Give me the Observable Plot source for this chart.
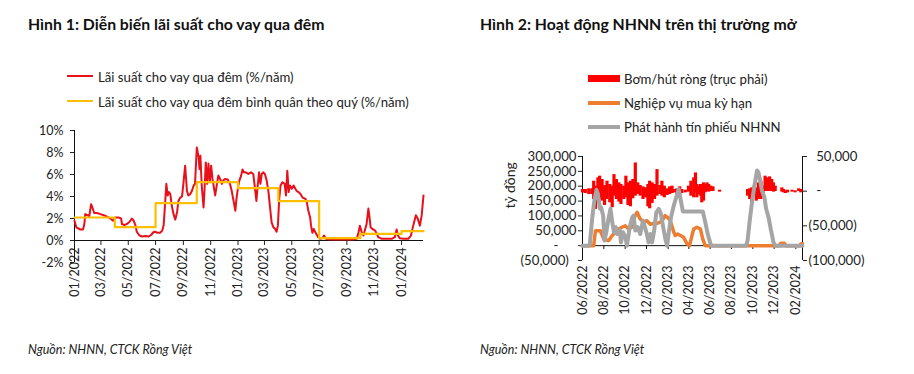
<!DOCTYPE html>
<html><head><meta charset="utf-8">
<script src="https://cdn.jsdelivr.net/npm/d3@7"></script>
<script src="https://cdn.jsdelivr.net/npm/@observablehq/plot@0.6"></script>
<style>
body{margin:0;background:#fff;}
#root{position:relative;width:914px;height:374px;overflow:hidden;font-family:Lato,"Open Sans",sans-serif;color:#1a1a1a;background:#fff;}
.abs{position:absolute;white-space:nowrap;line-height:0;}
.title{font-weight:700;font-size:15.8px;color:#111;}
.leg{font-size:13.2px;color:#222;}
.cap{font-style:italic;font-size:12.5px;color:#222;}
.sw{position:absolute;}
.panel{position:absolute;top:0;}
</style></head><body><div id="root"></div>
<script>
// ---------- Figure 1: overnight interbank rate (%/year) ----------
const onDates = ["2022-01-01","2022-01-05","2022-01-14","2022-01-20","2022-01-23","2022-01-25","2022-01-30","2022-02-03","2022-02-07","2022-02-10","2022-02-14","2022-02-20","2022-02-28","2022-03-07","2022-03-13","2022-03-18","2022-03-22","2022-03-28","2022-04-02","2022-04-09","2022-04-15","2022-04-17","2022-04-22","2022-04-28","2022-05-04","2022-05-09","2022-05-13","2022-05-17","2022-05-20","2022-05-26","2022-06-01","2022-06-08","2022-06-15","2022-06-21","2022-06-26","2022-06-30","2022-07-05","2022-07-11","2022-07-16","2022-07-19","2022-07-21","2022-07-25","2022-07-28","2022-07-31","2022-08-03","2022-08-06","2022-08-10","2022-08-14","2022-08-18","2022-08-21","2022-08-25","2022-08-29","2022-09-01","2022-09-05","2022-09-09","2022-09-12","2022-09-16","2022-09-20","2022-09-24","2022-09-27","2022-10-01","2022-10-05","2022-10-07","2022-10-09","2022-10-12","2022-10-16","2022-10-18","2022-10-21","2022-10-24","2022-10-27","2022-10-30","2022-11-02","2022-11-05","2022-11-08","2022-11-11","2022-11-15","2022-11-18","2022-11-22","2022-11-26","2022-11-29","2022-12-03","2022-12-09","2022-12-14","2022-12-18","2022-12-22","2022-12-26","2022-12-28","2023-01-01","2023-01-04","2023-01-08","2023-01-11","2023-01-14","2023-01-18","2023-01-24","2023-01-30","2023-02-04","2023-02-08","2023-02-11","2023-02-14","2023-02-17","2023-02-20","2023-02-23","2023-02-26","2023-03-02","2023-03-06","2023-03-10","2023-03-13","2023-03-17","2023-03-21","2023-03-25","2023-03-28","2023-03-31","2023-04-03","2023-04-06","2023-04-10","2023-04-15","2023-04-18","2023-04-21","2023-04-24","2023-04-27","2023-05-01","2023-05-05","2023-05-09","2023-05-12","2023-05-16","2023-05-20","2023-05-25","2023-05-31","2023-06-03","2023-06-07","2023-06-11","2023-06-13","2023-06-16","2023-06-19","2023-06-22","2023-06-26","2023-06-29","2023-07-03","2023-07-08","2023-07-12","2023-07-16","2023-07-21","2023-07-29","2023-08-13","2023-08-28","2023-09-12","2023-09-23","2023-09-27","2023-09-30","2023-10-04","2023-10-08","2023-10-11","2023-10-15","2023-10-19","2023-10-21","2023-10-24","2023-10-28","2023-11-03","2023-11-07","2023-11-10","2023-11-18","2023-11-29","2023-12-10","2023-12-17","2023-12-21","2023-12-24","2023-12-28","2024-01-05","2024-01-16","2024-01-22","2024-01-27","2024-02-02","2024-02-06","2024-02-11","2024-02-15","2024-02-19"];
const onRates = [1.8,1.2,1.0,1.0,1.5,2.4,2.3,2.2,3.3,3.0,2.5,2.5,2.4,2.3,2.2,2.1,2.0,1.8,2.1,2.1,2.0,1.5,1.4,1.5,1.7,2.0,1.8,1.4,0.8,0.45,0.36,0.4,0.36,0.5,0.75,0.8,0.7,0.7,0.9,1.4,2.6,5.15,4.1,4.4,4.2,3.2,2.4,1.9,2.6,3.6,3.9,4.0,5.15,6.8,4.5,4.1,4.2,4.5,5.0,5.15,8.45,7.6,6.5,7.7,5.0,3.0,4.4,7.1,5.15,7.0,5.3,6.8,5.6,4.85,4.1,5.15,5.9,5.6,5.15,5.45,5.6,5.55,5.15,4.5,3.6,2.7,3.6,4.85,5.45,5.9,6.45,6.2,6.2,6.05,6.2,6.05,4.7,3.6,5.0,6.2,5.15,6.05,6.2,6.05,5.45,4.4,3.2,1.65,1.2,1.05,0.8,1.35,3.8,5.0,5.3,5.15,4.1,6.35,4.4,5.0,4.7,5.0,4.7,4.5,4.4,4.25,3.9,3.8,3.6,2.7,2.1,1.35,0.7,1.05,0.8,0.5,0.3,0.15,0.2,0.45,0.15,0.12,0.1,0.1,0.1,0.1,0.15,0.75,1.35,0.75,0.45,0.9,1.5,2.9,2.3,1.2,1.05,0.9,0.6,0.3,0.15,0.15,0.15,0.3,1.0,0.45,0.2,0.15,0.15,0.45,1.35,2.3,2.0,1.35,2.3,4.1];
const qDates = ["2022-01-01","2022-04-01","2022-07-01","2022-10-01","2023-01-01","2023-04-01","2023-07-01","2023-10-01","2024-01-01","2024-02-19"];
const qRates = [2.09,1.21,3.39,5.3,4.76,3.58,0.21,0.6,0.85,0.85];
const leftYTicks = [-2,0,2,4,6,8,10];
const leftXTicks = ["2022-01-01","2022-03-01","2022-05-01","2022-07-01","2022-09-01","2022-11-01","2023-01-01","2023-03-01","2023-05-01","2023-07-01","2023-09-01","2023-11-01","2024-01-01"];

// ---------- Figure 2: SBV open market operations (bn VND, in thousands) ----------
const netDates = ["2022-06-01","2022-06-09","2022-06-19","2022-06-28","2022-07-03","2022-07-08","2022-07-15","2022-07-20","2022-07-27","2022-08-03","2022-08-10","2022-08-18","2022-08-25","2022-08-30","2022-09-06","2022-09-13","2022-09-19","2022-09-27","2022-10-03","2022-10-09","2022-10-16","2022-10-23","2022-10-30","2022-11-06","2022-11-13","2022-11-21","2022-11-28","2022-12-05","2022-12-10","2022-12-17","2022-12-24","2022-12-31","2023-01-08","2023-01-14","2023-01-21","2023-01-29","2023-02-05","2023-02-12","2023-02-19","2023-02-26","2023-03-06","2023-03-12","2023-03-22","2023-03-31","2023-04-07","2023-04-15","2023-04-20","2023-04-24","2023-04-29","2023-05-04","2023-05-08","2023-05-13","2023-05-18","2023-05-23","2023-05-28","2023-06-03","2023-06-09","2023-06-28","2023-09-16","2023-09-22","2023-09-28","2023-10-05","2023-10-11","2023-10-17","2023-10-24","2023-10-30","2023-11-05","2023-11-10","2023-11-18","2023-11-24","2023-11-29","2023-12-04","2023-12-23","2023-12-28","2024-01-02","2024-01-08","2024-01-21","2024-01-30","2024-02-09","2024-02-15"];
const netHigh = [2.4,2.4,3.4,3.4,14.4,7.2,19.2,21.6,16.8,8.1,14.4,9.6,7.2,23.9,16.8,12,9.6,7.2,21.6,12,14.4,16.8,40.7,12,8.1,6.2,4.8,9.6,14.4,12,9.6,31.1,8.1,14.4,7.2,3.4,6.2,7.2,2.4,3.4,6.2,2.4,1.4,7.2,14.4,19.2,26.3,9.6,7.2,9.6,4.8,12,9.6,12,9.6,7.2,6.2,1.4,2.4,3.4,4.8,7.2,4.8,12,14.4,7.2,21.6,19.2,20.6,16.8,12,7.2,4.8,2.4,0.5,1.4,1.4,0.5,3.4,2.4];
const netLow = [-2.4,-3.4,-4.8,-4.8,-12,-26.3,-16.8,-12,-14.4,-20.6,-12,-16.8,-23.9,-7.2,-12,-15.8,-19.2,-12,-9.6,-20.6,-22.5,-11,-7.2,-4.8,-7.2,-12,-9.6,-22.5,-25.4,-17.7,-12,-7.2,-4.8,-7.2,-9.6,-6.2,-4.8,-3.4,-2.4,-4.8,-6.2,-3.4,-2.4,-1.4,-7.2,-9.6,-2.4,-9.6,-4.8,-7.2,-16.8,-14.4,-2.4,-0.5,-1.4,-0.5,-0.5,-1.4,-7.2,-12,-19.2,-7.2,-14.4,-12,-12,-4.8,-0.5,-0.5,-0.5,-0.5,-1.4,-0.5,-1.4,-2.4,-3.4,-2.4,-1.4,-2.4,-0.5,-2.4];
const repoDates = ["2022-06-01","2022-07-03","2022-07-08","2022-07-22","2022-08-01","2022-08-15","2022-08-25","2022-09-03","2022-09-12","2022-09-22","2022-10-01","2022-10-11","2022-10-20","2022-10-25","2022-11-04","2022-11-13","2022-11-23","2022-12-02","2022-12-12","2022-12-21","2022-12-31","2023-01-09","2023-01-18","2023-01-23","2023-01-30","2023-02-07","2023-02-17","2023-02-21","2023-02-28","2023-03-08","2023-03-17","2023-03-27","2023-04-03","2023-04-10","2023-04-15","2023-04-24","2023-05-04","2023-05-11","2023-05-18","2023-12-15","2023-12-20","2023-12-30","2024-01-04","2024-02-12","2024-02-16","2024-02-20"];
const repoVals = [0,0,50,50,22,17,34,45,56,62,67,56,62,90,112,90,79,84,72,75,75,79,90,101,95,84,45,34,39,34,28,6,0,34,56,62,56,22,0,0,8,8,0,0,6,6];
const billDates = ["2022-06-01","2022-06-19","2022-06-22","2022-06-29","2022-07-05","2022-07-11","2022-07-15","2022-07-21","2022-07-24","2022-07-30","2022-08-03","2022-08-08","2022-08-15","2022-08-20","2022-08-25","2022-08-30","2022-09-04","2022-09-08","2022-09-16","2022-09-19","2022-09-25","2022-10-02","2022-10-06","2022-10-14","2022-10-21","2022-10-25","2022-10-30","2022-11-06","2022-11-13","2022-11-21","2022-11-28","2022-12-02","2022-12-07","2022-12-12","2022-12-17","2022-12-23","2022-12-29","2023-01-05","2023-01-11","2023-01-17","2023-01-24","2023-01-29","2023-02-02","2023-02-09","2023-02-17","2023-02-24","2023-03-03","2023-03-09","2023-03-15","2023-05-11","2023-05-18","2023-05-25","2023-06-02","2023-06-06","2023-09-12","2023-09-16","2023-09-22","2023-09-28","2023-10-05","2023-10-13","2023-10-17","2023-10-22","2023-10-27","2023-11-03","2023-11-08","2023-11-15","2023-11-22","2023-11-29","2023-12-04","2024-02-20"];
const billVals = [0,0,5,95,152,188,174,124,129,101,17,45,95,124,79,45,62,39,51,11,45,28,0,62,95,101,51,62,39,84,56,39,11,39,11,51,112,124,107,67,22,0,39,95,135,163,190,152,115,115,79,39,6,0,0,17,84,140,197,253,247,219,185,163,124,95,51,11,0,0];
const rightLeftTicks = [-50,0,50,100,150,200,250,300];
const rightRightTicks = [-100,-50,0,50];
const rightXTicks = ["2022-06-01","2022-08-01","2022-10-01","2022-12-01","2023-02-01","2023-04-01","2023-06-01","2023-08-01","2023-10-01","2023-12-01","2024-02-01"];

const P = s => new Date(s);
const rateData = onDates.map((d,i) => ({date:P(d), rate:onRates[i]}));
const qData = qDates.map((d,i) => ({date:P(d), rate:qRates[i]}));
const netData = netDates.map((d,i) => ({date:P(d), hi:netHigh[i], lo:netLow[i]}));
const repoData = repoDates.map((d,i) => ({date:P(d), v:repoVals[i]}));
const billData = billDates.map((d,i) => ({date:P(d), v:billVals[i]}));

const FONT = "Lato, 'Open Sans', sans-serif";
const baseStyle = {background:"transparent", overflow:"visible", fontFamily:FONT, fontSize:"12px", color:"#222"};
const mfmt = d3.utcFormat("%m/%Y");

const leftPlot = Plot.plot({
  width: 440, height: 320,
  marginLeft: 74, marginRight: 17, marginTop: 130, marginBottom: 80,
  style: baseStyle,
  x: {type:"utc", domain:[P(onDates[0]), P(onDates[onDates.length-1])]},
  y: {domain:[0,10]},
  marks: [
    Plot.ruleX([P(onDates[0])], {y1:-2, y2:10, stroke:"#111"}),
    Plot.ruleY([0], {stroke:"#111"}),
    Plot.axisY({ticks:leftYTicks, tickFormat:d => d + "%", tickSize:4, tickPadding:7, label:null, fontSize:12.5}),
    Plot.axisX({ticks:leftXTicks.map(P), tickFormat:mfmt, tickRotate:-90, tickSize:5, tickPadding:2, textAnchor:"end", label:null, fontSize:12.5}),
    Plot.line(rateData, {x:"date", y:"rate", stroke:"#e8101a", strokeWidth:2}),
    Plot.line(qData, {x:"date", y:"rate", curve:"step-after", stroke:"#ffbf00", strokeWidth:2.2})
  ]
});

// right axis (net injection) mapped onto left axis units
const toLeft = v => (v + 100) * 7 / 3 - 50;
const fromLeft = v => Math.round((v + 50) * 3 / 7 - 100);
const nf = d3.format(",");
const acctLeft = v => v === 0 ? "-\u2007\u2007\u2008" : v < 0 ? "(" + nf(-v * 1000) + ")\u2007" : nf(v * 1000);
const acctRight = v => v === 0 ? "\u2007-" : v < 0 ? "(" + nf(-v * 1000) + ")" : "\u2007" + nf(v * 1000);
const rStart = P(rightXTicks[0]), rEnd = P("2024-02-20");

const rightPlot = Plot.plot({
  width: 457, height: 330,
  marginLeft: 125, marginRight: 112, marginTop: 156, marginBottom: 70,
  style: baseStyle,
  x: {type:"utc", domain:[rStart, rEnd]},
  y: {domain:[-50, 300]},
  marks: [
    Plot.ruleX([rStart, rEnd], {stroke:"#111"}),
    Plot.ruleY([0], {stroke:"#111"}),
    Plot.ruleX(rightXTicks.map(P), {y1:0, y2:-50, insetBottom:11, stroke:"#111"}),
    Plot.axisY({anchor:"left", ticks:rightLeftTicks, tickFormat:acctLeft, tickSize:4, tickPadding:2, label:null, fontSize:13.2}),
    Plot.axisY({anchor:"right", ticks:rightRightTicks.map(toLeft), tickFormat:d => acctRight(fromLeft(d)), tickSize:4, tickPadding:2, label:null, fontSize:13.2}),
    Plot.axisX({ticks:rightXTicks.map(P), tickFormat:mfmt, tickRotate:-90, tickSize:0, tickPadding:5, textAnchor:"end", label:null, fontSize:12.5}),
    Plot.text(["tỷ đồng"], {frameAnchor:"left", dx:-72, rotate:-90, fontSize:14, fill:"#222"}),
    Plot.ruleX(netData, {x:"date", y1:d => toLeft(d.lo), y2:d => toLeft(d.hi), stroke:"#ff0000", strokeWidth:3.2}),
    Plot.line(repoData, {x:"date", y:"v", stroke:"#ed7d31", strokeWidth:3.5}),
    Plot.line(billData, {x:"date", y:"v", stroke:"#a5a5a5", strokeWidth:4})
  ]
});

const root = document.getElementById("root");
const lp = document.createElement("div"); lp.className = "panel"; lp.style.left = "0px"; lp.appendChild(leftPlot); root.appendChild(lp);
const rp = document.createElement("div"); rp.className = "panel"; rp.style.left = "457px"; rp.appendChild(rightPlot); root.appendChild(rp);

function text(str, x, y, cls) {
  const d = document.createElement("div");
  d.className = "abs " + cls; d.textContent = str;
  d.style.left = x + "px"; d.style.top = y + "px";
  root.appendChild(d);
}
function swatch(x, y, w, h, color) {
  const d = document.createElement("div");
  d.className = "sw"; d.style.left = x + "px"; d.style.top = y + "px";
  d.style.width = w + "px"; d.style.height = h + "px"; d.style.background = color;
  root.appendChild(d);
}
text("Hình 1: Diễn biến lãi suất cho vay qua đêm", 28, 24, "title");
text("Hình 2: Hoạt động NHNN trên thị trường mở", 480, 24, "title");
swatch(67, 75, 26, 2, "#e8101a");
text("Lãi suất cho vay qua đêm (%/năm)", 98, 77, "leg");
swatch(67, 100, 26, 2, "#ffbf00");
text("Lãi suất cho vay qua đêm bình quân theo quý (%/năm)", 98, 102, "leg");
swatch(588, 75, 32, 7, "#ff0000");
text("Bơm/hút ròng (trục phải)", 624, 79, "leg");
swatch(588, 101, 32, 4, "#ed7d31");
text("Nghiệp vụ mua kỳ hạn", 624, 103, "leg");
swatch(588, 125, 32, 4, "#a5a5a5");
text("Phát hành tín phiếu NHNN", 624, 127, "leg");
text("Nguồn: NHNN, CTCK Rồng Việt", 28, 350, "cap");
text("Nguồn: NHNN, CTCK Rồng Việt", 480, 350, "cap");
</script></body></html>
